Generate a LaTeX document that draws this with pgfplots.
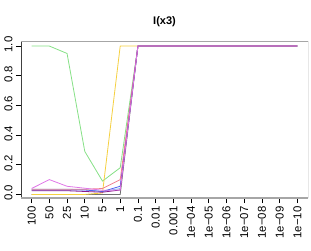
\documentclass[border=0pt]{standalone}
\usepackage{pgfplots}
\pgfplotsset{compat=1.18}
\usepackage{pgfplotstable}
\usepackage{fontspec}
\setmainfont{Liberation Sans}
\definecolor{cgreen}{HTML}{86E086}
\definecolor{cyellow}{HTML}{F5D040}
\definecolor{cgray}{HTML}{707070}
\definecolor{ccyan}{HTML}{80C8F0}
\definecolor{cblue}{HTML}{5060F0}
\definecolor{cpink}{HTML}{F08090}
\definecolor{cpurple}{HTML}{8A1A8A}
\definecolor{cmag}{HTML}{E078E8}
\pgfplotstableread{
x green yellow gray cyan blue pink purple mag
0 1.00 0.00 0.00 0.035 0.030 0.035 0.025 0.040
1 1.00 0.00 0.00 0.035 0.030 0.035 0.025 0.100
2 0.95 0.00 0.00 0.035 0.030 0.035 0.025 0.055
3 0.29 0.00 0.00 0.032 0.030 0.035 0.020 0.042
4 0.09 0.01 0.00 0.020 0.020 0.040 0.015 0.028
5 0.18 1.00 0.00 0.040 0.055 0.100 0.030 0.030
6 1.00 1.00 1.00 1.000 1.000 1.000 1.000 1.000
7 1.00 1.00 1.00 1.000 1.000 1.000 1.000 1.000
8 1.00 1.00 1.00 1.000 1.000 1.000 1.000 1.000
9 1.00 1.00 1.00 1.000 1.000 1.000 1.000 1.000
10 1.00 1.00 1.00 1.000 1.000 1.000 1.000 1.000
11 1.00 1.00 1.00 1.000 1.000 1.000 1.000 1.000
12 1.00 1.00 1.00 1.000 1.000 1.000 1.000 1.000
13 1.00 1.00 1.00 1.000 1.000 1.000 1.000 1.000
14 1.00 1.00 1.00 1.000 1.000 1.000 1.000 1.000
15 1.00 1.00 1.00 1.000 1.000 1.000 1.000 1.000
}\data
\begin{document}
\begin{tikzpicture}[x=1pt,y=1pt]
\useasboundingbox (0,0) rectangle (311,250);
\begin{axis}[at={(21pt,52pt)}, anchor=south west, scale only axis,
  width=287pt, height=157pt,
  xmin=-0.6, xmax=15.6, ymin=-0.024, ymax=1.034,
  axis line style={draw=none},
  xtick={0,...,15},
  xticklabels={100,50,25,10,5,1,0.1,0.01,0.001,1e−04,1e−05,1e−06,1e−07,1e−08,1e−09,1e−10},
  ytick={0,0.2,0.4,0.6,0.8,1.0},
  yticklabel style={/pgf/number format/.cd, fixed, fixed zerofill, precision=1, /tikz/.cd, rotate=90, anchor=south, xshift=1.5pt},
  xticklabel style={rotate=90, anchor=east},
  tick align=outside, tick pos=left, major tick length=5pt,
  tick style={black, line width=0.6pt},
  ticklabel style={font=\fontsize{11.4}{13}\selectfont},
  /pgf/number format/assume math mode=true,
  every axis plot/.append style={line width=0.8pt, mark=none},
]
\draw[black!80, line width=0.6pt] (axis cs:0,-0.024) -- (axis cs:15,-0.024);
\draw[black!75, line width=0.6pt] (rel axis cs:0,0) -- (rel axis cs:0,1);
\draw[black!75, line width=0.6pt] (rel axis cs:1,0) -- (rel axis cs:1,1);
\draw[black!35, line width=1.6pt] (rel axis cs:0,1) -- (rel axis cs:1,1);
\draw[black!35, line width=1.2pt] (rel axis cs:0,0) -- (rel axis cs:1,0);
\addplot[cgray] table[x=x,y=gray] {\data};
\addplot[cgreen] table[x=x,y=green] {\data};
\addplot[cyellow] table[x=x,y=yellow] {\data};
\addplot[ccyan] table[x=x,y=cyan] {\data};
\addplot[cblue] table[x=x,y=blue] {\data};
\addplot[cpink] table[x=x,y=pink] {\data};
\addplot[cpurple] table[x=x,y=purple] {\data};
\addplot[cmag] table[x=x,y=mag] {\data};
\end{axis}
\node[font=\bfseries\fontsize{11}{13}\selectfont] at (164.5,228.5) {I(x3)};
\end{tikzpicture}
\end{document}
